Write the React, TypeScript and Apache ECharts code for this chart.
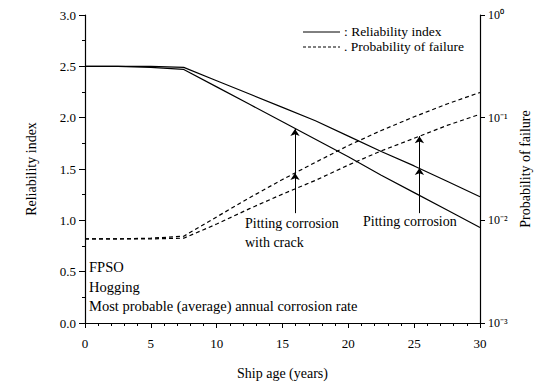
import React, { useEffect, useRef } from "react";
import * as echarts from "echarts";

const years = [0, 2.5, 5, 7.5, 10, 12.5, 15, 17.5, 20, 22.5, 25, 27.5, 30];
const betaPitting = [2.5, 2.5, 2.5, 2.49, 2.36, 2.23, 2.1, 1.97, 1.82, 1.67, 1.53, 1.38, 1.23];
const betaCrack = [2.5, 2.5, 2.49, 2.47, 2.3, 2.13, 1.96, 1.79, 1.62, 1.44, 1.27, 1.1, 0.93];
const pfPitting = [0.0066, 0.0066, 0.0066, 0.0067, 0.0092, 0.013, 0.018, 0.0245, 0.0345, 0.0475, 0.063, 0.084, 0.108];
const pfCrack = [0.0066, 0.0066, 0.0067, 0.007, 0.0108, 0.0166, 0.025, 0.0367, 0.0535, 0.075, 0.102, 0.136, 0.176];

const leftTicks = [0, 0.5, 1, 1.5, 2, 2.5, 3];
const rightTickLabels: Record<string, string> = {
  "1": "10⁰",
  "0.1": "10⁻¹",
  "0.01": "10⁻²",
  "0.001": "10⁻³",
};

// annotation arrows: [year, bottom beta, mid beta, top beta]
const arrowCrack = [15.95, 1.07, 1.46, 1.89];
const arrowPitting = [25.4, 1.07, 1.51, 1.82];

const FONT = "Liberation Serif";

const zip = (xs: number[], ys: number[]) => xs.map((x, i) => [x, ys[i]]);

export default function App() {
  const ref = useRef<HTMLDivElement>(null);
  useEffect(() => {
    if (!ref.current) return;
    const chart = echarts.init(ref.current, null, { renderer: "svg" });
    const arrowSegs = (a: number[]) => [
      [{ coord: [a[0], a[1]] }, { coord: [a[0], a[2]] }],
      [{ coord: [a[0], a[2]] }, { coord: [a[0], a[3]] }],
    ];
    const textStyle = { fontFamily: FONT, fontSize: 14, color: "#000" };
    const annFont = `14.5px '${FONT}'`;
    const legFont = `13.5px '${FONT}'`;
    chart.setOption({
      animation: false,
      backgroundColor: "#fff",
      textStyle: { fontFamily: FONT, color: "#000" },
      grid: { left: 85, right: 69, top: 15, bottom: 64 },
      xAxis: {
        type: "value",
        min: 0,
        max: 30,
        interval: 5,
        name: "Ship age (years)",
        nameLocation: "middle",
        nameGap: 43,
        nameTextStyle: textStyle,
        axisLine: { lineStyle: { color: "#000", width: 1.2 } },
        axisTick: { length: 5, lineStyle: { color: "#000" } },
        minorTick: { show: true, splitNumber: 5, length: 3, lineStyle: { color: "#000" } },
        axisLabel: { fontFamily: FONT, fontSize: 13, color: "#000", margin: 14 },
        splitLine: { show: false },
      },
      yAxis: [
        {
          type: "value",
          min: 0,
          max: 3,
          interval: 0.5,
          name: "Reliability index",
          nameLocation: "middle",
          nameGap: 47,
          nameTextStyle: textStyle,
          axisLine: { show: true, lineStyle: { color: "#000", width: 1.2 } },
          axisTick: { show: true, length: 6, lineStyle: { color: "#000" } },
          minorTick: { show: true, splitNumber: 2, length: 3, lineStyle: { color: "#000" } },
          axisLabel: {
            fontFamily: FONT,
            fontSize: 13,
            color: "#000",
            margin: 9,
            formatter: (v: number) => (leftTicks.includes(v) ? v.toFixed(1) : ""),
          },
          splitLine: { show: false },
        },
        {
          type: "log",
          logBase: 10,
          min: 0.001,
          max: 1,
          position: "right",
          name: "Probability of failure",
          nameLocation: "middle",
          nameGap: 38,
          nameRotate: 90,
          nameTextStyle: textStyle,
          axisLine: { show: true, lineStyle: { color: "#000", width: 1.2 } },
          axisTick: { show: true, length: 5, lineStyle: { color: "#000" } },
          axisLabel: {
            fontFamily: FONT,
            fontSize: 12,
            color: "#000",
            margin: 8,
            formatter: (v: number) => rightTickLabels[String(v)] ?? "",
          },
          splitLine: { show: false },
        },
      ],
      series: [
        {
          name: "Reliability index",
          type: "line",
          yAxisIndex: 0,
          data: zip(years, betaPitting),
          symbol: "none",
          lineStyle: { color: "#000", width: 1.2 },
          itemStyle: { color: "#000" },
          silent: true,
          markLine: {
            silent: true,
            symbol: ["none", "arrow"],
            symbolSize: 7,
            label: { show: false },
            lineStyle: { color: "#000", width: 1, type: "solid" },
            data: [...arrowSegs(arrowCrack), ...arrowSegs(arrowPitting)],
          },
        },
        {
          name: "Reliability index",
          type: "line",
          yAxisIndex: 0,
          data: zip(years, betaCrack),
          symbol: "none",
          lineStyle: { color: "#000", width: 1.2 },
          itemStyle: { color: "#000" },
          silent: true,
        },
        {
          name: "Probability of failure",
          type: "line",
          yAxisIndex: 1,
          data: zip(years, pfPitting),
          symbol: "none",
          lineStyle: { color: "#000", width: 1.2, type: [4, 3] },
          itemStyle: { color: "#000" },
          silent: true,
        },
        {
          name: "Probability of failure",
          type: "line",
          yAxisIndex: 1,
          data: zip(years, pfCrack),
          symbol: "none",
          lineStyle: { color: "#000", width: 1.2, type: [4, 3] },
          itemStyle: { color: "#000" },
          silent: true,
        },
      ],
      graphic: [
        {
          type: "line",
          shape: { x1: 303, y1: 32, x2: 340, y2: 32 },
          style: { stroke: "#000", lineWidth: 1 },
        },
        {
          type: "text",
          left: 344,
          top: 24,
          style: { text: ": Reliability index", font: legFont, fill: "#000" },
        },
        {
          type: "line",
          shape: { x1: 303, y1: 47, x2: 340, y2: 47 },
          style: { stroke: "#000", lineWidth: 1.2, lineDash: [3, 2] },
        },
        {
          type: "text",
          left: 344,
          top: 39,
          style: { text: ". Probability of failure", font: legFont, fill: "#000" },
        },
        { type: "text", left: 89, top: 259, style: { text: "FPSO", font: annFont, fill: "#000" } },
        { type: "text", left: 89, top: 279, style: { text: "Hogging", font: annFont, fill: "#000" } },
        {
          type: "text",
          left: 89,
          top: 298,
          style: { text: "Most probable (average) annual corrosion rate", font: annFont, fill: "#000" },
        },
        {
          type: "text",
          left: 245,
          top: 214,
          style: { text: "Pitting corrosion\nwith crack", font: `14px '${FONT}'`, fill: "#000", lineHeight: 19 },
        },
        {
          type: "text",
          left: 363,
          top: 214,
          style: { text: "Pitting corrosion", font: `14px '${FONT}'`, fill: "#000" },
        },
      ],
    });
    return () => chart.dispose();
  }, []);
  return (
    <div
      ref={ref}
      style={{ position: "absolute", left: 0, top: 0, width: 549, height: 387, background: "#fff" }}
    />
  );
}
